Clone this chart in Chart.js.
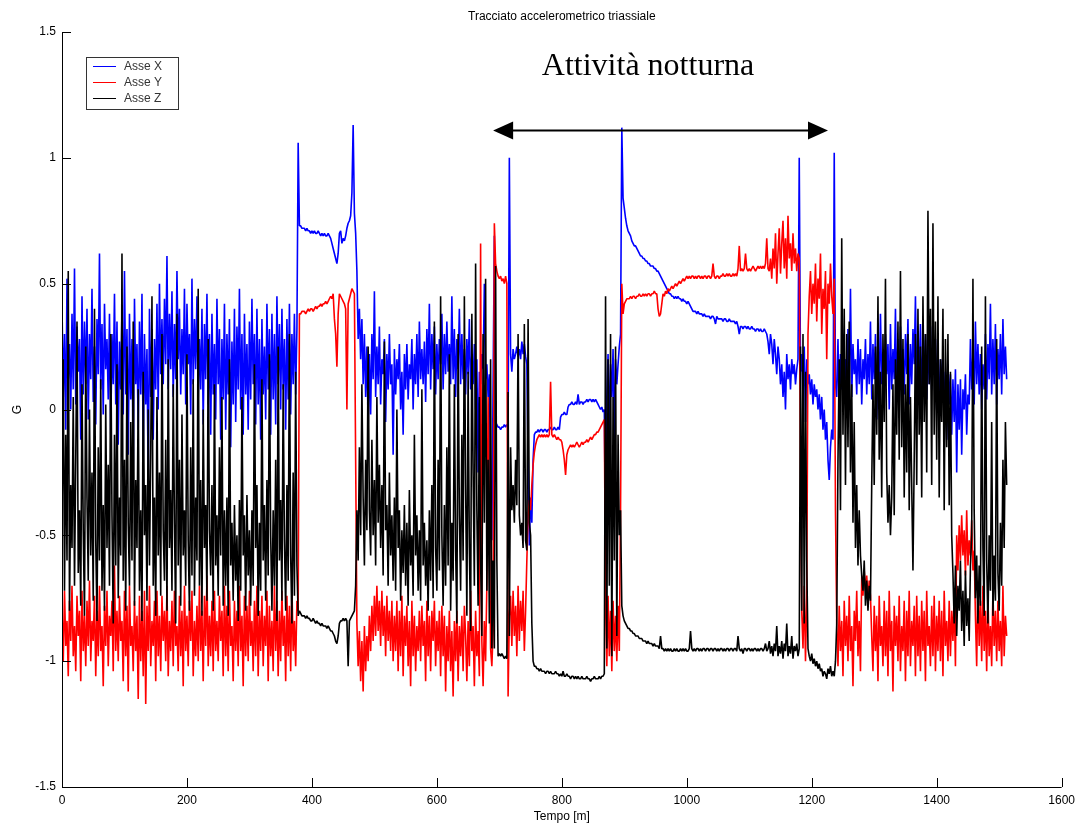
<!DOCTYPE html>
<html lang="it">
<head>
<meta charset="utf-8">
<title>Tracciato accelerometrico triassiale</title>
<script src="https://cdn.jsdelivr.net/npm/chart.js@4.4.1/dist/chart.umd.min.js"></script>
<style>
  html, body { margin: 0; padding: 0; background: #fff; }
  #box { width: 1081px; height: 825px; }
</style>
</head>
<body>
<div id="box"><canvas id="grafico"></canvas></div>
<script>
// un campione ogni 2 minuti, valori letti a occhio dal tracciato originale
const passo = 2;

const asseX = [
  // attivita 0-378
  0.42,0.05,0.30,-0.08,0.52,0.12,0.26,0.00,0.38,0.08,
  0.56,0.02,0.33,0.15,0.28,-0.12,0.45,0.06,0.35,0.10,
  0.40,-0.04,0.30,0.12,0.48,0.03,0.25,-0.06,0.36,0.14,
  0.62,0.08,0.34,-0.02,0.42,0.16,0.28,0.04,0.38,-0.10,
  0.30,0.10,0.46,0.02,0.35,-0.14,0.27,0.08,0.40,-0.02,
  0.55,0.06,0.32,-0.18,0.38,0.04,0.28,-0.25,0.44,0.10,
  0.26,-0.08,0.35,0.06,0.46,-0.20,0.30,0.02,0.24,-0.30,
  0.40,0.05,0.32,-0.12,0.28,0.08,0.42,0.00,0.50,0.14,
  0.36,0.10,0.44,0.18,0.61,0.08,0.38,0.16,0.47,0.05,
  0.34,0.12,0.55,0.20,0.40,0.06,0.32,0.14,0.48,0.02,
  0.42,0.18,0.30,-0.02,0.52,0.10,0.36,0.16,0.45,0.04,
  0.28,0.08,0.40,-0.06,0.34,0.12,0.46,0.02,0.30,-0.10,
  0.38,0.06,0.26,-0.04,0.44,0.10,0.32,-0.12,0.28,0.04,
  0.42,-0.08,0.30,0.06,0.36,-0.15,0.27,0.02,0.40,-0.05,
  0.33,0.08,0.48,0.00,0.30,-0.10,0.38,0.06,0.26,-0.08,
  0.35,0.04,0.44,0.10,0.30,-0.06,0.40,0.02,0.28,-0.12,
  0.36,0.06,0.25,-0.04,0.42,0.08,0.32,-0.10,0.38,0.04,
  0.30,-0.06,0.45,0.10,0.34,0.00,0.40,0.08,0.28,-0.08,
  0.36,0.04,0.42,-0.02,0.30,0.10,0.38,0.06,0.32,1.06,
  // riposo 380-468
  0.73,0.73,0.72,0.72,0.72,0.71,0.72,0.71,0.71,0.70,
  0.71,0.70,0.71,0.70,0.70,0.71,0.70,0.69,0.70,0.69,
  0.70,0.69,0.69,0.70,0.69,0.68,0.66,0.64,0.62,0.60,
  0.58,0.62,0.70,0.71,0.66,0.68,0.67,0.69,0.72,0.74,
  0.75,0.77,0.86,1.13,0.78,
  // attivita 470-690
  0.70,0.55,0.28,0.40,0.20,0.36,0.10,0.30,0.05,0.25,
  -0.08,0.22,-0.02,0.30,0.12,0.47,0.05,0.25,0.10,0.33,
  0.02,0.20,0.14,0.28,-0.05,0.22,0.08,0.30,0.10,0.18,
  -0.18,0.24,0.06,0.20,0.12,0.26,0.00,0.15,-0.10,0.22,
  0.08,0.26,0.04,0.18,0.12,0.28,0.00,0.22,0.10,0.30,
  0.05,0.35,0.12,0.24,0.10,0.27,0.03,0.32,0.14,0.42,
  0.08,0.30,0.16,0.33,0.06,0.26,0.12,0.28,0.18,0.38,
  0.08,0.30,0.14,0.35,0.15,0.26,0.10,0.45,0.12,0.32,
  0.05,0.28,0.16,0.40,0.10,0.30,0.12,0.24,0.06,0.28,
  0.14,0.36,0.08,0.22,0.10,0.26,0.00,0.20,-0.25,0.15,
  0.10,0.22,0.16,0.50,0.12,0.18,0.05,0.14,-0.30,-0.52,
  0.10,
  // 692-756
  0.69,-0.05,-0.06,-0.07,-0.07,-0.08,-0.07,-0.07,-0.06,-0.07,
  -0.06,-0.07,1.00,0.22,0.15,0.24,0.20,0.22,0.25,0.21,
  0.24,0.20,0.27,0.22,0.26,0.21,0.18,-0.20,-0.54,-0.35,
  -0.45,-0.20,-0.10,
  // 758-868
  -0.09,-0.09,-0.08,-0.09,-0.08,-0.08,-0.09,-0.08,-0.08,-0.09,
  -0.08,-0.08,-0.07,-0.08,-0.08,-0.07,-0.08,-0.08,-0.07,-0.08,
  -0.03,-0.02,-0.02,-0.01,-0.02,-0.02,0.01,0.02,0.02,0.03,
  0.02,0.02,0.03,0.02,0.06,0.02,0.03,0.03,0.02,0.03,
  0.03,0.04,0.03,0.04,0.04,0.03,0.04,0.03,0.04,0.03,
  0.02,0.01,0.00,0.01,-0.01,0.00,
  // 870-892
  -0.57,0.05,0.22,-0.10,0.18,0.05,0.24,-0.15,0.20,0.10,0.18,0.25,
  // notte 894-1186
  0.30,1.12,0.84,0.80,0.76,0.73,0.71,0.70,0.69,0.67,
  0.66,0.65,0.65,0.64,0.63,0.62,0.61,0.61,0.60,0.60,
  0.59,0.59,0.58,0.58,0.57,0.57,0.57,0.56,0.56,0.55,
  0.55,0.54,0.53,0.52,0.51,0.50,0.49,0.48,0.47,0.46,
  0.46,0.45,0.45,0.44,0.45,0.44,0.45,0.44,0.44,0.43,
  0.44,0.43,0.43,0.42,0.43,0.42,0.41,0.40,0.39,0.39,
  0.39,0.38,0.39,0.38,0.38,0.38,0.37,0.38,0.37,0.37,
  0.37,0.37,0.36,0.37,0.37,0.36,0.34,0.37,0.36,0.36,
  0.36,0.36,0.35,0.36,0.36,0.35,0.35,0.36,0.35,0.35,
  0.35,0.35,0.34,0.35,0.33,0.30,0.33,0.33,0.32,0.33,
  0.33,0.32,0.33,0.32,0.32,0.33,0.32,0.32,0.31,0.32,
  0.32,0.31,0.32,0.31,0.31,0.32,0.31,0.30,0.27,0.22,
  0.30,0.26,0.18,0.28,0.22,0.14,0.25,0.20,0.10,0.18,
  0.05,0.15,0.00,0.22,0.12,0.18,0.08,0.20,0.14,0.18,
  0.10,0.16,0.20,1.00,0.15,0.22,0.05,
  // 1188-1238
  0.25,-0.05,0.20,0.10,0.14,0.06,0.12,0.02,0.10,0.05,
  0.08,0.00,0.06,-0.04,0.05,-0.08,0.00,-0.12,-0.05,-0.20,
  -0.28,-0.15,-0.08,-0.12,1.02,0.10,
  // attivita 1240-1512
  0.05,0.28,-0.02,0.22,0.08,0.30,0.12,0.20,0.02,0.32,
  0.10,0.48,0.05,0.26,0.14,0.20,0.06,0.28,0.10,0.24,
  0.02,0.20,0.12,0.28,0.06,0.22,0.10,0.35,0.04,0.26,
  0.12,0.30,-0.04,0.24,0.08,0.38,0.10,0.22,0.02,0.30,
  0.14,0.26,0.00,0.34,0.08,0.24,0.12,0.40,0.05,0.28,
  0.10,0.33,0.16,0.24,0.06,0.30,0.14,0.36,0.02,0.26,
  0.10,0.32,0.18,0.45,0.08,0.28,0.14,0.34,0.06,0.24,
  0.12,0.30,0.04,0.27,0.10,0.33,0.08,0.22,0.14,0.28,
  0.00,0.25,-0.05,0.20,0.08,0.22,-0.02,0.15,-0.12,0.18,
  0.02,0.14,-0.10,0.12,-0.05,0.16,-0.25,0.10,-0.08,0.12,
  -0.18,0.08,0.00,0.14,-0.10,0.06,0.02,0.28,0.08,0.22,
  0.02,0.35,0.10,0.26,0.06,0.22,0.00,0.18,0.08,0.30,
  0.04,0.26,0.12,0.42,0.06,0.28,0.10,0.34,0.02,0.24,
  0.12,0.30,0.06,0.36,0.14,0.25,0.12
];

const asseY = [
  -0.80,-1.00,-0.72,-0.94,-0.84,-1.06,-0.76,-0.92,-0.70,-0.98,
  -0.86,-1.04,-0.74,-0.90,-0.80,-1.08,-0.72,-0.96,-0.82,-1.02,
  -0.76,-0.94,-0.68,-1.00,-0.84,-0.92,-0.74,-1.06,-0.80,-0.98,
  -0.70,-0.96,-0.86,-1.10,-0.78,-0.94,-0.72,-1.02,-0.82,-0.90,
  -0.76,-1.04,-0.62,-0.96,-0.80,-1.00,-0.74,-0.92,-0.84,-1.08,
  -0.72,-0.98,-0.78,-1.12,-0.70,-0.94,-0.86,-1.04,-0.76,-0.96,
  -0.82,-1.15,-0.74,-1.00,-0.80,-1.06,-0.72,-1.17,-0.78,-0.96,
  -0.70,-1.02,-0.84,-0.94,-0.76,-1.08,-0.72,-0.98,-0.82,-1.04,
  -0.74,-0.92,-0.80,-1.00,-0.70,-1.06,-0.84,-0.96,-0.76,-1.02,
  -0.72,-0.94,-0.86,-1.04,-0.74,-0.98,-0.80,-1.10,-0.70,-0.96,
  -0.82,-1.02,-0.76,-0.92,-0.72,-1.06,-0.84,-0.98,-0.78,-1.00,
  -0.70,-0.96,-0.80,-1.08,-0.74,-0.94,-0.66,-1.02,-0.82,-0.98,
  -0.76,-1.04,-0.72,-0.96,-0.84,-1.00,-0.74,-0.92,-0.80,-1.06,
  -0.70,-0.98,-0.78,-1.04,-0.72,-0.94,-0.86,-1.08,-0.76,-0.96,
  -0.80,-1.02,-0.70,-0.96,-0.82,-1.10,-0.74,-0.98,-0.78,-1.00,
  -0.72,-0.94,-0.84,-1.04,-0.76,-0.98,-0.70,-1.06,-0.80,-0.96,
  -0.74,-1.02,-0.82,-0.94,-0.72,-1.08,-0.78,-0.98,-0.84,-1.04,
  -0.70,-0.96,-0.76,-1.06,-0.80,-1.00,-0.72,-0.94,-0.82,-1.08,
  -0.74,-0.98,-0.78,-1.04,-0.70,-0.96,-0.84,-1.02,-0.76,-0.80,
  0.38,0.38,0.39,0.39,0.39,0.38,0.39,0.40,0.39,0.40,
  0.40,0.39,0.40,0.41,0.40,0.41,0.41,0.42,0.41,0.42,
  0.42,0.43,0.42,0.43,0.44,0.45,0.44,0.46,0.36,0.30,
  0.17,0.38,0.46,0.45,0.44,0.43,0.42,0.40,0.00,0.42,
  0.44,0.46,0.48,0.47,0.46,
  -0.20,-0.85,-1.02,-0.88,-1.08,-0.92,-1.12,-0.86,-1.04,-0.90,
  -1.00,-0.82,-0.96,-0.78,-0.92,-0.74,-0.90,-0.70,-0.88,-0.76,
  -0.94,-0.72,-0.90,-0.78,-0.98,-0.74,-0.92,-0.80,-0.96,-0.76,
  -1.00,-0.82,-0.96,-0.76,-1.04,-0.80,-0.98,-0.74,-1.06,-0.82,
  -0.94,-0.78,-1.02,-0.84,-1.10,-0.76,-0.98,-0.82,-1.04,-0.86,
  -0.96,-0.80,-1.00,-0.78,-0.94,-0.84,-1.08,-0.76,-0.98,-0.82,
  -1.04,-0.80,-0.92,-0.76,-1.02,-0.84,-0.96,-0.80,-1.06,-0.78,
  -0.98,-0.82,-1.12,-0.86,-1.00,-0.80,-1.04,-0.88,-1.14,-0.84,
  -1.00,-0.80,-1.08,-0.86,-0.98,-0.82,-1.04,-0.78,-0.90,-1.08,
  -0.84,-1.02,-0.72,-0.96,-0.86,-1.10,-0.80,-0.98,-0.88,-1.06,
  0.66,-0.92,-1.10,-0.84,-1.00,-0.70,0.05,-0.40,-0.95,-1.02,
  -0.88,
  0.74,0.58,0.55,0.53,0.52,0.53,0.51,0.52,0.50,0.53,
  0.50,-1.14,-0.82,-0.74,-0.94,-0.72,-0.90,-0.78,-0.98,-0.70,
  -0.92,-0.76,-0.88,-0.72,-0.96,-0.80,-0.60,-0.42,-0.36,-0.40,
  -0.30,-0.22,-0.17,
  -0.14,-0.12,-0.11,-0.10,-0.11,-0.10,-0.11,-0.10,-0.11,-0.10,
  -0.11,-0.10,0.11,-0.10,-0.11,-0.10,-0.11,-0.12,-0.11,-0.12,
  -0.12,-0.13,-0.16,-0.20,-0.26,-0.18,-0.16,-0.15,-0.14,-0.15,
  -0.14,-0.15,-0.14,-0.13,-0.14,-0.15,-0.14,-0.13,-0.14,-0.13,
  -0.13,-0.12,-0.13,-0.12,-0.11,-0.12,-0.11,-0.10,-0.10,-0.09,
  -0.09,-0.08,-0.07,-0.06,-0.05,-0.04,
  -0.78,-1.02,-0.74,-0.98,-0.80,-1.04,-0.76,-0.96,-0.82,-1.00,-0.78,-0.96,
  -0.40,0.50,0.38,0.42,0.43,0.44,0.44,0.44,0.45,0.44,
  0.45,0.45,0.44,0.45,0.45,0.46,0.45,0.45,0.46,0.45,
  0.46,0.45,0.46,0.46,0.45,0.46,0.46,0.47,0.46,0.46,
  0.40,0.37,0.38,0.42,0.46,0.45,0.47,0.46,0.48,0.47,
  0.48,0.49,0.48,0.49,0.50,0.49,0.50,0.51,0.50,0.51,
  0.52,0.51,0.52,0.53,0.52,0.53,0.52,0.53,0.53,0.52,
  0.53,0.52,0.53,0.53,0.52,0.53,0.52,0.53,0.53,0.52,
  0.53,0.53,0.52,0.53,0.58,0.53,0.52,0.53,0.53,0.52,
  0.53,0.53,0.54,0.53,0.53,0.54,0.53,0.54,0.53,0.53,
  0.54,0.53,0.54,0.53,0.56,0.65,0.55,0.56,0.55,0.56,
  0.62,0.56,0.55,0.56,0.55,0.56,0.57,0.56,0.55,0.56,
  0.57,0.56,0.57,0.56,0.57,0.56,0.58,0.68,0.56,0.55,
  0.60,0.52,0.64,0.56,0.70,0.50,0.62,0.72,0.54,0.66,
  0.75,0.56,0.68,0.52,0.77,0.60,0.66,0.55,0.70,0.58,
  0.64,0.55,0.62,0.60,-0.30,-0.80,-0.95,
  -0.70,-1.00,-0.75,0.30,0.45,0.55,0.38,0.50,0.42,0.58,
  0.35,0.52,0.44,0.62,0.30,0.48,0.40,0.55,0.20,0.50,
  0.42,0.58,0.45,0.38,0.52,-0.40,
  -0.85,-1.02,-0.78,-0.96,-0.84,-1.06,-0.76,-0.94,-0.82,-1.00,
  -0.74,-0.96,-0.86,-1.10,-0.80,-0.92,-0.72,-0.98,-0.84,-1.04,
  -0.66,-0.74,-0.64,-0.72,-0.66,-0.76,-0.68,-0.74,-0.90,-1.04,
  -0.78,-0.96,-0.82,-1.08,-0.74,-0.94,-0.86,-1.02,-0.76,-0.98,
  -0.80,-1.06,-0.72,-0.96,-0.84,-1.12,-0.78,-0.94,-0.82,-1.00,
  -0.74,-1.04,-0.86,-0.96,-0.76,-1.08,-0.80,-0.98,-0.72,-1.02,
  -0.84,-0.94,-0.78,-1.06,-0.74,-0.98,-0.82,-1.04,-0.76,-0.96,
  -0.80,-1.08,-0.72,-0.94,-0.86,-1.02,-0.78,-0.98,-0.74,-1.04,
  -0.82,-0.96,-0.76,-1.00,-0.80,-1.06,-0.72,-0.94,-0.84,-1.00,
  -0.76,-0.98,-0.80,-0.92,-0.74,-1.02,-0.50,-0.64,-0.46,-0.60,
  -0.42,-0.58,-0.48,-0.66,-0.40,-0.62,-0.52,-0.58,-0.44,-0.64,
  -0.56,-0.82,-1.02,-0.68,-0.94,-0.76,-1.00,-0.70,-0.96,-0.80,
  -1.04,-0.74,-0.98,-0.86,-1.02,-0.72,-0.94,-0.80,-1.00,-0.76,
  -0.96,-0.84,-1.02,-0.70,-0.98,-0.82,-0.90
];

const asseZ = [
  -0.45,0.20,-0.72,-0.10,-0.60,0.55,-0.80,-0.30,-0.55,0.05,
  -0.70,-0.20,0.35,-0.65,-0.40,-0.78,0.10,-0.48,-0.82,0.25,
  -0.35,-0.68,0.00,-0.58,-0.25,-0.76,0.40,-0.52,-0.84,-0.15,
  -0.60,0.12,-0.72,-0.38,-0.80,0.02,-0.55,-0.22,-0.70,0.30,
  -0.42,-0.85,-0.10,-0.62,0.18,-0.75,-0.35,-0.58,0.62,-0.68,
  -0.20,-0.80,0.25,-0.45,-0.70,-0.05,-0.60,0.35,-0.78,-0.28,
  -0.55,0.08,-0.72,-0.40,-0.84,0.15,-0.50,-0.30,-0.76,0.00,
  -0.62,-0.18,0.45,-0.70,-0.35,-0.82,0.05,-0.58,-0.25,-0.74,
  0.30,-0.48,-0.68,-0.12,-0.80,0.20,-0.55,-0.32,-0.72,0.10,
  -0.45,-0.85,0.38,-0.62,-0.20,-0.78,-0.02,-0.58,-0.40,-0.70,
  0.22,-0.52,-0.80,-0.15,-0.66,0.12,-0.74,-0.35,-0.60,0.48,
  -0.70,-0.28,-0.82,0.00,-0.55,-0.38,-0.76,0.28,-0.48,-0.66,
  -0.30,-0.80,0.10,-0.62,-0.42,-0.74,-0.15,-0.58,0.05,-0.78,
  -0.40,-0.70,-0.35,-0.82,0.20,-0.62,-0.45,-0.76,-0.38,-0.68,
  -0.50,-0.84,-0.36,-0.72,0.05,-0.58,-0.42,-0.80,-0.34,-0.66,
  -0.48,-0.78,-0.40,-0.70,0.18,-0.55,-0.30,-0.82,-0.45,-0.72,
  0.12,-0.60,-0.38,-0.76,-0.28,-0.66,0.22,-0.50,-0.80,-0.40,
  -0.70,-0.20,-0.84,0.25,-0.60,-0.36,-0.76,0.10,-0.52,-0.80,
  -0.30,-0.68,0.30,-0.58,-0.85,-0.25,-0.74,0.15,-0.62,-0.82,
  -0.80,-0.81,-0.82,-0.82,-0.82,-0.83,-0.82,-0.83,-0.83,-0.84,
  -0.84,-0.83,-0.84,-0.85,-0.84,-0.85,-0.85,-0.86,-0.85,-0.86,
  -0.86,-0.86,-0.87,-0.86,-0.87,-0.88,-0.88,-0.89,-0.90,-0.92,
  -0.93,-0.90,-0.85,-0.84,-0.84,-0.83,-0.84,-0.83,-0.84,-1.02,
  -0.84,-0.83,-0.82,-0.81,-0.80,
  -0.70,-0.40,-0.60,-0.15,-0.50,0.10,-0.35,-0.62,-0.20,-0.48,
  0.25,-0.40,-0.58,-0.12,-0.50,-0.28,-0.62,0.05,-0.45,-0.22,
  -0.55,-0.30,-0.66,0.27,-0.48,-0.38,-0.70,-0.25,-0.58,-0.42,
  -0.68,-0.35,-0.72,0.00,-0.55,-0.40,-0.76,-0.48,-0.65,-0.38,
  -0.70,-0.45,-0.78,-0.32,-0.62,-0.50,-0.74,-0.10,-0.58,-0.42,
  -0.72,-0.48,-0.76,0.08,-0.62,-0.45,-0.70,-0.52,-0.80,-0.40,
  -0.68,-0.30,-0.75,0.35,-0.55,-0.72,-0.20,-0.64,0.45,-0.50,
  -0.78,-0.38,-0.70,-0.15,-0.62,0.22,-0.80,-0.45,-0.68,0.10,
  -0.55,-0.85,0.30,-0.42,-0.72,-0.10,-0.60,0.45,-0.30,-0.82,
  0.15,-0.55,-0.88,0.38,-0.25,-0.70,0.58,-0.40,-0.78,0.05,
  -0.60,-0.90,0.30,-0.45,0.52,-0.72,-0.20,-0.85,0.20,-0.95,
  -0.60,
  -0.95,0.57,-0.60,-0.98,-0.97,-0.98,-0.97,-0.98,-0.99,-0.98,
  -0.99,0.07,-0.90,-0.15,-0.40,-0.30,-0.45,-0.20,-0.38,0.30,
  -0.42,-0.50,-0.45,-0.55,0.34,-0.52,-0.56,0.36,-0.45,-0.50,
  -0.85,-1.00,-1.02,
  -1.02,-1.03,-1.03,-1.04,-1.03,-1.04,-1.04,-1.04,-1.05,-1.04,
  -1.04,-1.05,-1.04,-1.05,-1.05,-1.05,-1.04,-1.05,-1.05,-1.06,
  -1.05,-1.06,-1.04,-1.06,-1.06,-1.05,-1.06,-1.06,-1.07,-1.06,
  -1.06,-1.07,-1.06,-1.07,-1.06,-1.07,-1.07,-1.06,-1.07,-1.07,
  -1.07,-1.06,-1.07,-1.07,-1.08,-1.07,-1.07,-1.06,-1.07,-1.07,
  -1.07,-1.06,-1.07,-1.06,-1.06,-1.05,
  0.45,-0.95,0.20,-0.70,0.30,-0.98,0.05,-0.60,0.25,-0.90,-0.10,-0.50,
  -0.40,-0.78,-0.82,-0.84,-0.85,-0.86,-0.87,-0.87,-0.88,-0.88,
  -0.89,-0.89,-0.90,-0.90,-0.90,-0.91,-0.91,-0.91,-0.92,-0.92,
  -0.92,-0.93,-0.92,-0.93,-0.93,-0.93,-0.94,-0.93,-0.94,-0.94,
  -0.94,-0.95,-0.90,-0.95,-0.95,-0.96,-0.95,-0.96,-0.95,-0.96,
  -0.95,-0.96,-0.96,-0.95,-0.96,-0.95,-0.96,-0.96,-0.95,-0.96,
  -0.95,-0.96,-0.95,-0.96,-0.96,-0.95,-0.88,-0.95,-0.96,-0.95,
  -0.96,-0.95,-0.95,-0.96,-0.95,-0.96,-0.95,-0.95,-0.96,-0.95,
  -0.95,-0.96,-0.95,-0.95,-0.96,-0.95,-0.95,-0.96,-0.95,-0.96,
  -0.95,-0.95,-0.96,-0.95,-0.96,-0.95,-0.95,-0.96,-0.95,-0.95,
  -0.96,-0.95,-0.95,-0.96,-0.90,-0.95,-0.96,-0.95,-0.97,-0.95,
  -0.95,-0.96,-0.95,-0.95,-0.96,-0.95,-0.96,-0.95,-0.95,-0.96,
  -0.95,-0.96,-0.95,-0.95,-0.96,-0.95,-0.93,-0.96,-0.95,-0.92,
  -0.97,-0.94,-0.98,-0.93,-0.96,-0.86,-0.98,-0.94,-0.97,-0.92,
  -0.99,-0.93,-0.96,-0.85,-0.98,-0.94,-0.97,-0.90,-0.99,-0.94,
  -0.96,-0.93,-0.98,-0.95,0.25,-0.80,0.30,
  -0.85,0.15,-0.60,-0.95,-0.98,-1.00,-0.97,-1.01,-0.99,-1.02,
  -1.00,-1.03,-1.01,-1.04,-1.03,-1.06,-1.04,-1.05,-1.07,-1.03,
  -1.05,-1.02,-1.06,-1.04,-1.06,-1.00,
  -0.85,-0.20,0.20,-0.40,0.68,-0.10,0.40,-0.30,0.30,-0.15,
  0.35,-0.25,0.10,-0.45,-0.05,-0.55,-0.30,-0.62,-0.40,-0.58,
  -0.66,-0.72,-0.60,-0.78,-0.68,-0.80,-0.70,-0.76,-0.30,0.10,
  -0.30,0.25,-0.10,0.45,-0.20,0.15,-0.35,0.30,-0.05,0.52,
  -0.25,-0.45,-0.30,-0.50,-0.35,0.10,-0.42,0.20,-0.10,0.35,
  -0.20,0.55,-0.15,0.28,-0.35,0.10,-0.25,0.30,-0.40,0.05,
  -0.30,-0.64,-0.20,0.30,-0.30,0.40,-0.10,0.25,-0.35,0.45,
  -0.05,0.30,-0.25,0.79,0.10,0.40,-0.30,0.74,-0.10,0.35,
  -0.20,0.45,-0.35,0.20,-0.05,0.40,-0.40,0.28,-0.15,0.30,
  -0.38,0.15,-0.50,-0.65,-0.85,-0.62,-0.90,-0.70,-0.80,-0.60,
  -0.88,-0.72,-0.94,-0.64,-0.86,-0.75,-0.92,-0.62,-0.50,0.52,
  -0.40,-0.75,-0.58,-0.85,-0.62,-0.78,0.25,-0.55,-0.82,0.45,
  -0.60,-0.85,-0.50,-0.72,-0.05,-0.82,-0.58,-0.76,0.28,-0.65,
  -0.80,-0.45,-0.70,-0.20,-0.55,-0.05,-0.30
];

const tempo = asseX.map((_, i) => i * passo);

const nomi = ['Asse X', 'Asse Y', 'Asse Z'];
const colori = ['#0000ff', '#ff0000', '#000000'];
const tickX = [0, 200, 400, 600, 800, 1000, 1200, 1400, 1600];
const tickY = [-1.5, -1, -0.5, 0, 0.5, 1, 1.5];

// freccia "Attività notturna"
const notteDa = 690, notteA = 1226, notteY = 1.11;
const notteTestoX = 938, notteTestoY = 1.33;

Chart.defaults.font.family = "'Liberation Sans', Arial, sans-serif";
Chart.defaults.font.size = 12;
Chart.defaults.color = '#000';

function punti(valori) {
  return valori.map((v, i) => ({ x: tempo[i], y: v }));
}

const decorazioni = {
  id: 'decorazioni',
  afterDraw(chart) {
    const { ctx, chartArea: a, scales: { x, y } } = chart;
    ctx.save();

    // assi con tacche interne
    ctx.strokeStyle = '#000';
    ctx.lineWidth = 1;
    ctx.beginPath();
    ctx.moveTo(a.left + 0.5, a.top);
    ctx.lineTo(a.left + 0.5, a.bottom + 0.5);
    ctx.lineTo(a.right, a.bottom + 0.5);
    tickX.forEach(v => {
      const px = Math.round(x.getPixelForValue(v)) + 0.5;
      ctx.moveTo(px, a.bottom);
      ctx.lineTo(px, a.bottom - 9);
    });
    tickY.forEach(v => {
      const py = Math.round(y.getPixelForValue(v)) + 0.5;
      ctx.moveTo(a.left, py);
      ctx.lineTo(a.left + 9, py);
    });
    ctx.stroke();

    // titoli
    ctx.fillStyle = '#000';
    ctx.font = "12px 'Liberation Sans', Arial, sans-serif";
    ctx.textAlign = 'center';
    ctx.textBaseline = 'middle';
    const cx = (a.left + a.right) / 2;
    ctx.fillText('Tracciato accelerometrico triassiale', cx, a.top - 15);
    ctx.fillText('Tempo [m]', cx, a.bottom + 30);
    ctx.save();
    ctx.translate(a.left - 44, (a.top + a.bottom) / 2);
    ctx.rotate(-Math.PI / 2);
    ctx.fillText('G', 0, 0);
    ctx.restore();

    // legenda
    const lx = a.left + 24, ly = a.top + 25;
    ctx.fillStyle = '#fff';
    ctx.fillRect(lx, ly, 92, 52);
    ctx.strokeStyle = '#333';
    ctx.strokeRect(lx + 0.5, ly + 0.5, 92, 52);
    ctx.textAlign = 'left';
    nomi.forEach((n, i) => {
      const yy = ly + 9.5 + i * 16;
      ctx.strokeStyle = colori[i];
      ctx.beginPath();
      ctx.moveTo(lx + 7, yy);
      ctx.lineTo(lx + 30, yy);
      ctx.stroke();
      ctx.fillStyle = '#333';
      ctx.fillText(n, lx + 38, yy);
    });

    // annotazione attività notturna
    const x1 = x.getPixelForValue(notteDa), x2 = x.getPixelForValue(notteA);
    const ya = Math.round(y.getPixelForValue(notteY)) + 0.5;
    ctx.strokeStyle = '#000';
    ctx.fillStyle = '#000';
    ctx.lineWidth = 2;
    ctx.beginPath();
    ctx.moveTo(x1 + 10, ya);
    ctx.lineTo(x2 - 10, ya);
    ctx.stroke();
    ctx.beginPath();
    ctx.moveTo(x1, ya);
    ctx.lineTo(x1 + 20, ya - 9);
    ctx.lineTo(x1 + 20, ya + 9);
    ctx.closePath();
    ctx.fill();
    ctx.beginPath();
    ctx.moveTo(x2, ya);
    ctx.lineTo(x2 - 20, ya - 9);
    ctx.lineTo(x2 - 20, ya + 9);
    ctx.closePath();
    ctx.fill();
    ctx.font = "32px 'Liberation Serif', 'Times New Roman', serif";
    ctx.textAlign = 'center';
    ctx.textBaseline = 'alphabetic';
    ctx.fillText('Attività notturna', x.getPixelForValue(notteTestoX), y.getPixelForValue(notteTestoY));

    ctx.restore();
  }
};

new Chart(document.getElementById('grafico'), {
  type: 'line',
  data: {
    datasets: [
      { label: nomi[0], data: punti(asseX), borderColor: colori[0], order: 2 },
      { label: nomi[1], data: punti(asseY), borderColor: colori[1], order: 1 },
      { label: nomi[2], data: punti(asseZ), borderColor: colori[2], order: 0 }
    ]
  },
  options: {
    responsive: true,
    maintainAspectRatio: false,
    animation: false,
    layout: { padding: { top: 32, right: 19, left: 0, bottom: 0 } },
    elements: {
      point: { radius: 0 },
      line: { borderWidth: 1.6, borderJoinStyle: 'bevel', tension: 0 }
    },
    plugins: {
      legend: { display: false },
      title: { display: false },
      tooltip: { enabled: false }
    },
    scales: {
      x: {
        type: 'linear',
        min: 0,
        max: 1600,
        grid: { display: false, drawTicks: false },
        border: { display: false },
        ticks: { padding: 6, maxRotation: 0, autoSkip: false, callback: v => String(v) },
        afterBuildTicks: s => { s.ticks = tickX.map(v => ({ value: v })); },
        afterFit: s => { s.height = 38; }
      },
      y: {
        min: -1.5,
        max: 1.5,
        grid: { display: false, drawTicks: false },
        border: { display: false },
        ticks: { padding: 6, callback: v => String(Math.round(v * 10) / 10) },
        afterBuildTicks: s => { s.ticks = tickY.map(v => ({ value: v })); },
        afterFit: s => { s.width = 62; }
      }
    }
  },
  plugins: [decorazioni]
});
</script>
</body>
</html>
